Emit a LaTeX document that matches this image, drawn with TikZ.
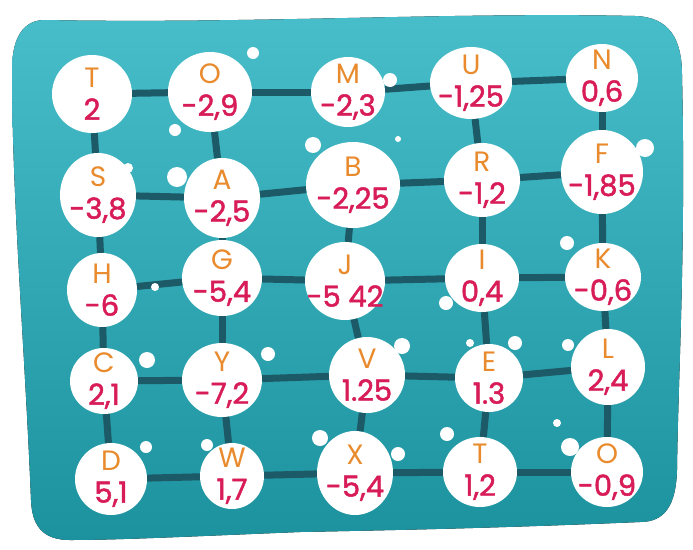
\documentclass[tikz,border=0pt]{standalone}
\usepackage{fontspec}
\setmainfont{Poppins}
\newfontfamily\numfont{Poppins}[FakeBold=1.6]
\usetikzlibrary{shapes.geometric}
\definecolor{blobtop}{RGB}{72, 190, 203}
\definecolor{blobbottom}{RGB}{28, 146, 158}
\definecolor{linkteal}{RGB}{27, 90, 102}
\definecolor{letterorange}{RGB}{233, 138, 44}
\definecolor{numred}{RGB}{216, 28, 88}
\newcommand{\ltr}[1]{{\color{letterorange}\fontsize{28}{28}\selectfont #1}}
\newcommand{\num}[1]{{\color{numred}\numfont\fontsize{29}{32}\selectfont #1}}

\begin{document}
\begin{tikzpicture}[x=1pt, y=-1pt,
			spot/.style={ellipse, fill=white, inner sep=-12pt, align=center, font=\fontsize{29}{32}\selectfont},
			link/.style={draw=linkteal, line width=7pt},
			splash/.style={fill=white}]
			\useasboundingbox (0,0) rectangle (693,549);
			% Hintergrund zeichnen
			\fill[top color=blobtop, bottom color=blobbottom]
				(45,20) .. controls (250,24) and (450,12) .. (635,16)
				.. controls (670,17) and (682,40) .. (682,75)
				.. controls (686,250) and (678,380) .. (677,470)
				.. controls (676,505) and (665,522) .. (640,522)
				.. controls (500,528) and (400,530) .. (300,532)
				.. controls (200,536) and (120,540) .. (70,540)
				.. controls (42,540) and (32,525) .. (31,500)
				.. controls (25,350) and (12,200) .. (12,70)
				.. controls (12,35) and (25,20) .. (45,20) -- cycle;
			% Felder zeichnen
			\node[spot, minimum width=80pt, minimum height=78pt] (T1) at (92,94) {\ltr{T}\\\num{2}};
			\node[spot, minimum width=84pt, minimum height=80pt] (O1) at (210,92) {\ltr{O}\\\num{-2,9}};
			\node[spot, minimum width=74pt, minimum height=70pt] (M) at (348,92) {\ltr{M}\\\num{-2,3}};
			\node[spot, minimum width=82pt, minimum height=72pt] (U) at (471,83) {\ltr{U}\\\num{-1,25}};
			\node[spot, minimum width=72pt, minimum height=68pt] (N) at (602,78) {\ltr{N}\\\num{0,6}};
			\node[spot, minimum width=76pt, minimum height=84pt] (S) at (98,195) {\ltr{S}\\\num{-3,8}};
			\node[spot, minimum width=76pt, minimum height=80pt] (A) at (222,198) {\ltr{A}\\\num{-2,5}};
			\node[spot, minimum width=94pt, minimum height=86pt] (B) at (353,185) {\ltr{B}\\\num{-2,25}};
			\node[spot, minimum width=76pt, minimum height=74pt] (R) at (482,180) {\ltr{R}\\\num{-1,2}};
			\node[spot, minimum width=82pt, minimum height=84pt] (F) at (602,172) {\ltr{F}\\\num{-1,85}};
			\node[spot, minimum width=70pt, minimum height=74pt] (H) at (102,290) {\ltr{H}\\\num{-6}};
			\node[spot, minimum width=80pt, minimum height=76pt] (G) at (222,278) {\ltr{G}\\\num{-5,4}};
			\node[spot, minimum width=80pt, minimum height=78pt] (J) at (345,281) {\ltr{J}\\\num{-5 42}};
			\node[spot, minimum width=74pt, minimum height=68pt] (I) at (482,278) {\ltr{I}\\\num{0,4}};
			\node[spot, minimum width=76pt, minimum height=68pt] (K) at (603,277) {\ltr{K}\\\num{-0,6}};
			\node[spot, minimum width=68pt, minimum height=66pt] (C) at (104,381) {\ltr{C}\\\num{2,1}};
			\node[spot, minimum width=80pt, minimum height=74pt] (Y) at (222,380) {\ltr{Y}\\\num{-7,2}};
			\node[spot, minimum width=76pt, minimum height=76pt] (V) at (367,375) {\ltr{V}\\\num{1.25}};
			\node[spot, minimum width=68pt, minimum height=68pt] (E) at (489,378) {\ltr{E}\\\num{1.3}};
			\node[spot, minimum width=74pt, minimum height=76pt] (L) at (608,367) {\ltr{L}\\\num{2,4}};
			\node[spot, minimum width=72pt, minimum height=72pt] (D) at (111,479) {\ltr{D}\\\num{5,1}};
			\node[spot, minimum width=64pt, minimum height=66pt] (W) at (232,476) {\ltr{W}\\\num{1,7}};
			\node[spot, minimum width=76pt, minimum height=84pt] (X) at (355,473) {\ltr{X}\\\num{-5,4}};
			\node[spot, minimum width=74pt, minimum height=70pt] (T2) at (480,472) {\ltr{T}\\\num{1,2}};
			\node[spot, minimum width=72pt, minimum height=70pt] (O2) at (607,472) {\ltr{O}\\\num{-0,9}};
			% Verbindungen zeichnen
			\foreach \a/\b in {T1/O1, O1/M, M/U, U/N, S/A, A/B, B/R, R/F, H/G, G/J, J/I, I/K,
					C/Y, Y/V, V/E, E/L, D/W, W/X, X/T2, T2/O2,
					T1/S, O1/A, U/R, N/F, S/H, A/G, B/J, R/I, F/K,
					H/C, G/Y, J/V, I/E, K/L, C/D, Y/W, V/X, E/T2, L/O2}
				\draw[link] (\a) -- (\b);
			% Spritzer
			\foreach \x/\y/\r in {253/53/6, 175/130/6, 177/177/10, 128/168/5, 390/80/7, 313/145/8,
					398/139/3, 645/148/9, 155/287/4, 147/360/8, 268/354/7, 146/447/6, 207/445/6,
					320/438/8, 446/303/7, 567/243/7, 402/346/8, 470/343/4, 515/343/7, 568/345/6,
					557/423/4, 447/434/7, 398/454/7, 570/447/9}
				\fill[splash] (\x,\y) circle (\r pt);
		\end{tikzpicture}
\end{document}
